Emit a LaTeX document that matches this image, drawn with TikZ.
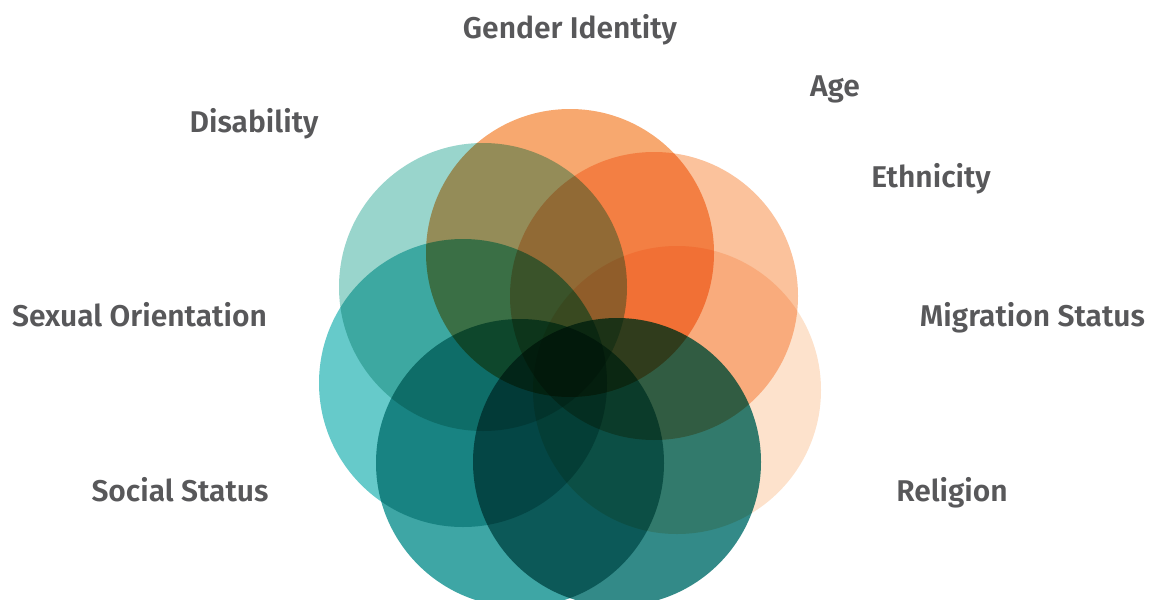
\documentclass[tikz,border=0pt]{standalone}
\usepackage{fontspec}
\newfontfamily\labfont{Fira Sans SemiBold}
\definecolor{cGender}{HTML}{F7A86F}
\definecolor{cEth}{HTML}{FBC29C}
\definecolor{cMig}{HTML}{FDE2CC}
\definecolor{cRel}{HTML}{338A88}
\definecolor{cSoc}{HTML}{3EA6A5}
\definecolor{cSex}{HTML}{66CACA}
\definecolor{cDis}{HTML}{99D5CC}
\definecolor{labgray}{HTML}{58585A}
\begin{document}
\begin{tikzpicture}[x=1pt,y=-1pt,
  lab/.style={font=\labfont\fontsize{30}{30}\selectfont, text=labgray, inner sep=0pt, anchor=base},
  disc/.style={fill=#1, draw=none}]
\useasboundingbox (0,0) rectangle (1152,600);
\begin{scope}[blend group=multiply]
  \fill[disc=cGender] (570,253) circle[radius=144];
  \fill[disc=cEth]    (654,296) circle[radius=144];
  \fill[disc=cMig]    (677,390) circle[radius=144];
  \fill[disc=cRel]    (617,462) circle[radius=144];
  \fill[disc=cSoc]    (520,463) circle[radius=144];
  \fill[disc=cSex]    (463,383) circle[radius=144];
  \fill[disc=cDis]    (483,287) circle[radius=144];
\end{scope}
\node[lab] (gender) at (570,38)  {Gender Identity};
\node[lab] (age)    at (835,96)  {Age};
\node[lab] (dis)    at (254,132) {Disability};
\node[lab] (eth)    at (931,187) {Ethnicity};
\node[lab] (sex)    at (139.5,326) {Sexual Orientation};
\node[lab] (mig)    at (1032.5,326) {Migration Status};
\node[lab] (soc)    at (180,501) {Social Status};
\node[lab] (rel)    at (952,501) {Religion};
\end{tikzpicture}
\end{document}
